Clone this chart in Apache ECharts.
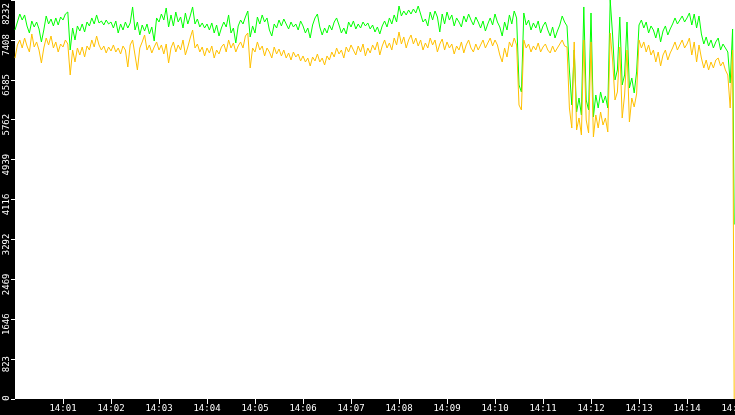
<!DOCTYPE html>
<html><head><meta charset="utf-8">
<script src="https://cdn.jsdelivr.net/npm/echarts@6/dist/echarts.min.js"></script>
<style>html,body{margin:0;padding:0;background:#000}#c{width:735px;height:415px}</style>
</head><body><div id="c"></div>
<script>
// time step of the samples (seconds after 14:00:00)
const stepSeconds = 3;
const lastSecond = 899;
const xMaxSeconds = 900;
const yMax = 8232;
const yInterval = 823.2;

const green = [
7613,7778,7943,7819,7923,7696,7551,7799,7675,7778,
7634,7366,7613,7902,7737,7840,7696,7861,7716,7881,
7819,7943,7984,7200,7654,7407,7696,7592,7737,7572,
7778,7696,7861,7737,7923,7758,7799,7716,7819,7737,
7778,7654,7799,7551,7737,7613,7778,7654,7758,8088,
7613,7778,7510,7716,7592,7737,7531,7675,7386,7861,
7778,7943,7819,8067,7675,7923,7696,7984,7778,7881,
7654,7964,7737,7902,8088,7737,7840,7675,7758,7654,
7737,7613,7758,7551,7716,7489,7654,7778,7675,7923,
7551,7654,7345,7696,7819,7737,7881,8005,7469,7696,
7551,7881,7737,7923,7778,7861,7613,7489,7737,7654,
7819,7696,7840,7737,7634,7778,7675,7737,7613,7799,
7696,7551,7654,7448,7716,7861,7943,7675,7510,7654,
7551,7716,7613,7778,7861,7716,7551,7654,7531,7778,
7675,7799,7634,7737,7654,7778,7696,7758,7634,7716,
7572,7675,7531,7696,7799,7675,7861,7737,7923,7778,
8108,7902,8005,7923,8026,7943,8046,7964,8108,7943,
7778,7840,7696,7984,7819,8005,7881,7572,7943,7737,
7984,7819,7923,7696,7861,7778,7675,7902,7778,7943,
7819,7716,7881,7778,7654,7799,7592,7737,7861,7716,
7943,7778,7675,7489,7778,7613,7923,7737,8005,7861,
6479,6334,7964,7716,7819,7613,7758,7654,7799,7551,
7696,7778,7613,7489,7675,7448,7592,7716,7902,7778,
7696,6788,6066,7200,5921,6210,5860,8088,6169,5963,
7964,5818,6272,6004,6334,6107,6252,6004,8232,7510,
6582,6788,7881,6479,6685,7778,6417,6623,6314,6747,
7716,7819,7654,7778,7551,7696,7613,7448,7654,7366,
7592,7696,7510,7634,7737,7861,7737,7819,7902,7778,
7861,7964,7716,7943,7654,7902,7531,7324,7469,7283,
7407,7242,7366,7448,7200,7324,7242,7159,6520,7634
];
const greenLast = 3600;

const orange = [
7035,7304,7407,7242,7448,7283,7159,7531,7262,7366,
7200,6932,7242,7448,7304,7489,7242,7366,7159,7324,
7262,7407,7324,6685,7200,6953,7242,7097,7262,7056,
7283,7200,7407,7262,7489,7304,7200,7283,7139,7262,
7180,7304,7159,7242,7118,7283,7200,6850,7304,7407,
7097,6788,7242,7366,7510,7200,7304,7139,7262,7366,
7200,7304,7118,7324,6932,7242,7366,7159,7304,7200,
7407,7097,7262,7448,7613,7242,7324,7159,7262,7077,
7242,7139,7283,7035,7200,7118,7262,7324,7159,7407,
7242,7345,7159,7283,7366,7242,7489,7551,6829,7242,
7159,7366,7200,7283,7077,7242,7159,7035,7262,7118,
7221,7077,7200,7035,7139,6994,7159,7056,7118,6974,
7077,6953,7035,6870,7056,6974,7118,6953,7035,6891,
7077,6994,7159,7056,7242,7118,7200,7035,7262,7159,
7304,7200,7097,7283,7159,7324,7077,7242,7139,7304,
7200,7366,7097,7283,7407,7242,7345,7200,7448,7304,
7572,7324,7469,7242,7407,7510,7324,7448,7283,7407,
7200,7345,7242,7448,7304,7407,7159,7324,7427,7200,
7366,7242,7324,7118,7283,7200,7366,7139,7304,7407,
7242,7159,7324,7200,7304,7407,7242,7345,7448,7283,
7407,7304,7097,6953,7242,7056,7366,7262,7448,7304,
6066,5963,7407,7242,7324,7159,7283,7200,7345,7159,
7262,7324,7200,7139,7283,7159,7242,7324,7407,7283,
7262,6004,5591,7366,5550,5798,5447,7407,5756,5488,
7366,5406,5860,5591,5921,5653,5798,5509,7551,6994,
6169,6334,7262,5798,6272,7200,5715,6210,6025,6293,
7407,7242,7366,7159,7304,7097,7200,6953,7159,6870,
7097,7200,6994,7139,7242,7366,7200,7304,7407,7242,
7324,7448,7097,7366,6953,7304,7035,6829,6994,6788,
6953,6829,6994,7035,6870,6953,6788,6685,6004,7200
];
const orangeLast = 0;

function points(arr, last) {
  const d = arr.map((v, i) => [i * stepSeconds, v]);
  d.push([lastSecond, last]);
  return d;
}

const FONT = 'DejaVu Sans Mono';
const chart = echarts.init(document.getElementById('c'));
chart.setOption({
  backgroundColor: '#000',
  animation: false,
  grid: { left: 15, right: 0, top: 0, bottom: 16, show: true, backgroundColor: '#fff', borderWidth: 0,
          containLabel: false, outerBoundsMode: 'none' },
  xAxis: {
    type: 'value', min: 0, max: xMaxSeconds, interval: 60,
    axisLine: { show: false },
    axisTick: { show: true, length: 5, lineStyle: { color: '#fff', width: 1 } },
    splitLine: { show: false },
    axisLabel: {
      color: '#fff', fontSize: 9, fontFamily: FONT, margin: 5,
      showMinLabel: false, showMaxLabel: true,
      formatter: s => '14:' + String(Math.round(s / 60)).padStart(2, '0')
    }
  },
  yAxis: {
    type: 'value', min: 0, max: yMax, interval: yInterval,
    axisLine: { show: false },
    axisTick: { show: true, length: 4, lineStyle: { color: '#fff', width: 1 } },
    splitLine: { show: false },
    axisLabel: {
      rotate: 90, color: '#fff', fontSize: 9, fontFamily: FONT, margin: 4,
      showMinLabel: true, showMaxLabel: true,
      formatter: v => {
        const t = String(Math.floor(v + 1e-6));
        if (v >= yMax - 1) return '{top|' + t + '}';
        if (v <= 0) return '{bot|' + t + '}';
        return '{n|' + t + '}';
      },
      rich: {
        n: { color: '#fff', fontSize: 9, fontFamily: FONT, padding: [0, 10, 0, 0] },
        top: { color: '#fff', fontSize: 9, fontFamily: FONT, padding: [0, 28, 0, 0] },
        bot: { color: '#fff', fontSize: 9, fontFamily: FONT, padding: [0, 0, 0, 2] }
      }
    }
  },
  series: [
    { type: 'line', data: points(green, greenLast), symbol: 'none', smooth: false,
      lineStyle: { width: 1, color: '#00ff00' }, itemStyle: { color: '#00ff00' }, silent: true },
    { type: 'line', data: points(orange, orangeLast), symbol: 'none', smooth: false,
      lineStyle: { width: 1, color: '#ffc000' }, itemStyle: { color: '#ffc000' }, silent: true }
  ]
});
</script>
</body></html>
